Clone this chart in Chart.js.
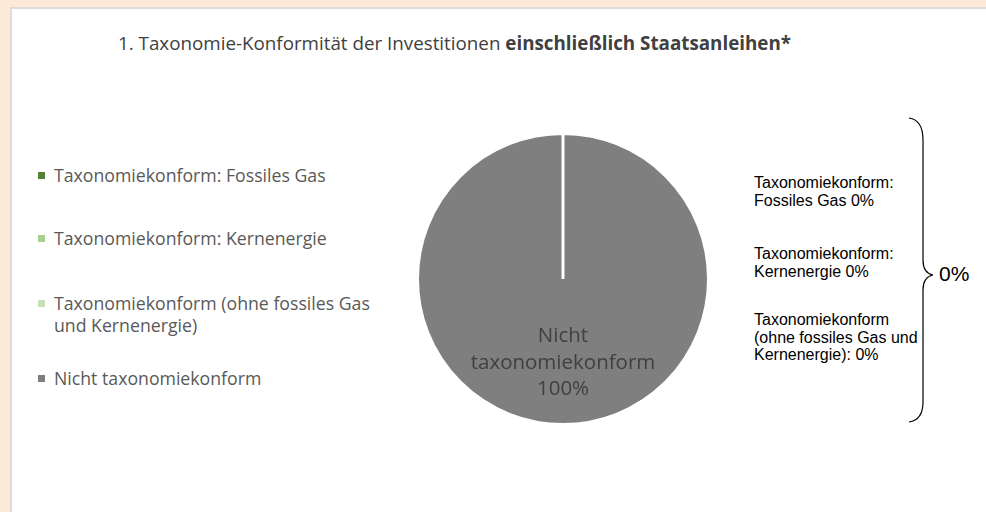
<!DOCTYPE html>
<html lang="de">
  <head>
    <meta charset="utf-8" />
    <title>Taxonomie-Konformität</title>
    <style>
      * {
        margin: 0;
        padding: 0;
      }
      body {
        width: 986px;
        height: 512px;
        background: #fce9d7;
        position: relative;
        overflow: hidden;
      }
      .panel {
        position: absolute;
        left: 10px;
        top: 7px;
        right: 0;
        bottom: 0;
        background: #fff;
        border-left: 2px solid #dcdcdc;
        border-top: 2px solid #dcdcdc;
      }
      .title {
        position: absolute;
        left: 118px;
        top: 31px;
        font-family: "Open Sans", sans-serif;
        font-size: 18.8px;
        line-height: 25px;
        color: #404040;
        white-space: nowrap;
      }
      .legend {
        position: absolute;
        left: 38px;
        font-family: "Open Sans", sans-serif;
        font-size: 17.7px;
        color: #595959;
        line-height: 22px;
        white-space: nowrap;
      }
      .legend span.box {
        position: absolute;
        left: 0;
        top: 8px;
        width: 7px;
        height: 7px;
      }
      .legend span.txt {
        display: block;
        margin-left: 16px;
      }
      .note {
        position: absolute;
        left: 754px;
        font-family: "Liberation Sans", Arial, sans-serif;
        font-size: 16px;
        line-height: 17.5px;
        color: #000;
        white-space: nowrap;
      }
      #total {
        position: absolute;
        left: 939px;
        top: 262px;
        font-family: "Liberation Sans", Arial, sans-serif;
        font-size: 21px;
        color: #000;
      }
      .chartBox {
        position: absolute;
        left: 413px;
        top: 129px;
        width: 300px;
        height: 300px;
      }
      #brace {
        position: absolute;
        left: 900px;
        top: 110px;
      }
    </style>
  </head>
  <body>
    <div class="panel"></div>
    <div class="title">
      1. Taxonomie-Konformität der Investitionen <b>einschließlich Staatsanleihen*</b>
    </div>
    <div id="legend"></div>
    <div id="notes"></div>
    <svg id="brace" width="40" height="320">
      <path
        d="M9 8 Q23 10 23 30 L23 150 Q23 163 33 165 Q23 167 23 180 L23 292 Q23 310 9 312"
        fill="none"
        stroke="#000"
        stroke-width="1.2"
      />
    </svg>
    <div id="total"></div>
    <div class="chartBox">
      <canvas id="myChart"></canvas>
    </div>

    <script src="https://cdn.jsdelivr.net/npm/chart.js@4.4.0/dist/chart.umd.min.js"></script>

    <script>
      const categories = [
        "Taxonomiekonform: Fossiles Gas",
        "Taxonomiekonform: Kernenergie",
        "Taxonomiekonform (ohne fossiles Gas und Kernenergie)",
        "Nicht taxonomiekonform",
      ];
      const values = [0, 0, 0, 100];
      const colors = ["#548235", "#a9d18e", "#c5e0b4", "#7f7f7f"];
      const noteLabels = [
        ["Taxonomiekonform:", "Fossiles Gas 0%"],
        ["Taxonomiekonform:", "Kernenergie 0%"],
        ["Taxonomiekonform", "(ohne fossiles Gas und", "Kernenergie): 0%"],
      ];
      const totalAligned = values[0] + values[1] + values[2];

      // legend on the left
      const legendTops = [164, 227, 292, 367];
      const legendLines = [
        ["Taxonomiekonform: Fossiles Gas"],
        ["Taxonomiekonform: Kernenergie"],
        ["Taxonomiekonform (ohne fossiles Gas", "und Kernenergie)"],
        ["Nicht taxonomiekonform"],
      ];
      const legendEl = document.getElementById("legend");
      categories.forEach((c, i) => {
        const item = document.createElement("div");
        item.className = "legend";
        item.style.top = legendTops[i] + "px";
        item.innerHTML =
          `<span class="box" style="background:${colors[i]}"></span>` +
          `<span class="txt">${legendLines[i].join("<br>")}</span>`;
        legendEl.appendChild(item);
      });

      // notes on the right
      const noteTops = [174, 245, 311];
      const notesEl = document.getElementById("notes");
      noteLabels.forEach((lines, i) => {
        const n = document.createElement("div");
        n.className = "note";
        n.style.top = noteTops[i] + "px";
        n.innerHTML = lines.join("<br>");
        notesEl.appendChild(n);
      });
      document.getElementById("total").textContent = totalAligned + "%";

      // label inside the big slice
      const sliceLabel = {
        id: "sliceLabel",
        afterDatasetsDraw(chart) {
          const arc = chart.getDatasetMeta(0).data[3];
          const { ctx } = chart;
          ctx.save();
          ctx.fillStyle = "#404040";
          ctx.font = '20.5px "Open Sans", sans-serif';
          ctx.textAlign = "center";
          ctx.textBaseline = "alphabetic";
          ["Nicht", "taxonomiekonform", values[3] + "%"].forEach((t, k) => {
            ctx.fillText(t, arc.x, arc.y + 63 + k * 26.5);
          });
          ctx.restore();
        },
      };

      const data = {
        labels: categories,
        datasets: [
          {
            data: values,
            backgroundColor: colors,
            borderColor: "#ffffff",
            borderWidth: 3,
          },
        ],
      };

      const config = {
        type: "pie",
        data: data,
        options: {
          responsive: true,
          maintainAspectRatio: false,
          animation: false,
          layout: { padding: 3 },
          plugins: {
            legend: { display: false },
            tooltip: { enabled: false },
          },
        },
        plugins: [sliceLabel],
      };

      const myChart = new Chart(document.getElementById("myChart"), config);
    </script>
  </body>
</html>
